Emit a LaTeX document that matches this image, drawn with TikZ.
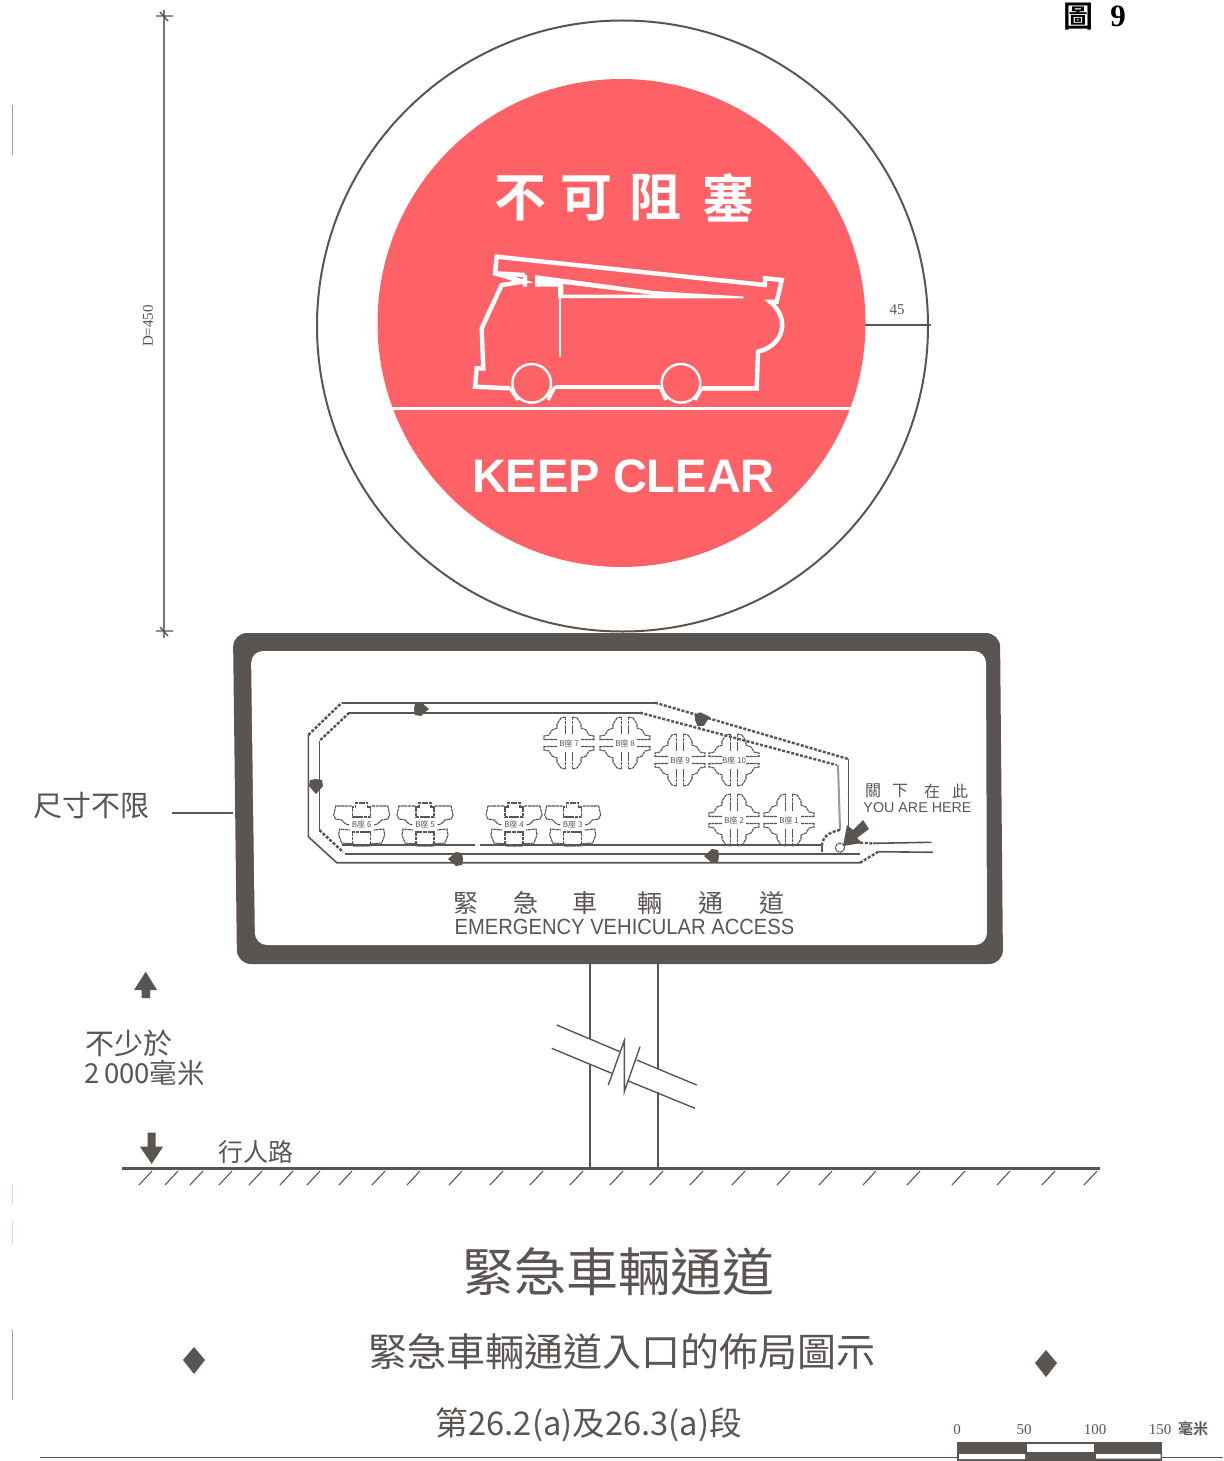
\documentclass[tikz,border=0pt]{standalone}
\usepackage{fontspec}
\setmainfont{Liberation Serif}
\setsansfont{Liberation Sans}
\newfontfamily\cjk{Noto Sans CJK TC}
\newfontfamily\cjkb{Noto Sans CJK TC Bold}
\definecolor{ink}{HTML}{5A5552}
\definecolor{signred}{HTML}{FF6266}
\newcommand{\fs}[1]{\fontsize{#1}{#1}\selectfont}
\tikzset{
  road/.style={draw=ink,line width=1.6pt},
  roadd/.style={draw=ink,line width=2.4pt,dash pattern=on 3pt off 1.6pt},
  truck/.style={draw=white,line width=4.4pt,line join=miter},
  blockln/.style={draw=ink,line width=1.1pt,dash pattern=on 3.2pt off .6pt},
  txt/.style={text=ink,inner sep=0pt,font=\cjk},
  pics/crossb/.style={code={
    \foreach \sx/\sy in {1/1,-1/1,1/-1,-1/-1}{
      \draw[blockln,xscale=\sx,yscale=\sy] (3.5,-26)--(8,-25)--(12,-19)--(12,-15)--(17,-13)--(20,-8)--(25,-7)--(25,-3.5)--(12,-3.5);
      \draw[blockln,xscale=\sx,yscale=\sy] (3.5,-26)--(3.5,-9);
    }
    \node[txt,font=\cjk\fs{8}] at (0,0) {#1};
  }},
  pics/hblock/.style={code={
    \foreach \sx in {1,-1}{
      \draw[blockln,xscale=\sx] (0,-22)--(6,-22)--(6,-18)--(9,-18)--(9,-8)--(0,-8);
      \draw[blockln,xscale=\sx] (10,-19)--(26,-19)--(28,-10)--(26,-6)--(20,-5)--(16,-1)--(12,0);
      \draw[blockln,xscale=\sx] (0,21)--(8,21)--(8,19)--(20,18)--(23,10)--(22,4)--(12,5);
      \draw[blockln,xscale=\sx] (9,19)--(9,7)--(0,7);
    }
    \node[txt,font=\cjk\fs{8},fill=white,inner sep=.5pt] at (0,-.5) {#1};
  }},
  pics/mapmark/.style={code={
    \fill[ink,rotate=#1] (-6,-6)--(0,-7)--(8,0)--(0,7)--(-6,6)--(-7,0)--cycle;
  }}
}
\begin{document}
\begin{tikzpicture}[x=1pt,y=-1pt]
\useasboundingbox (0,0) rectangle (1223,1461);
\fill[white] (0,0) rectangle (1223,1461);

% margin marks
\draw[ink,line width=.6pt,opacity=.6] (12,105)--(12,155) (12,1330)--(12,1400);
\draw[signred,line width=.6pt,opacity=.35] (12,1185)--(12,1205) (12,1220)--(12,1245);

% header
\node[txt,text=black,font=\cjkb\fs{30},anchor=base] (fig) at (1078,28) {圖};
\node[inner sep=0pt,text=black,font=\rmfamily\bfseries\fs{31},anchor=base] (fign) at (1118,27) {9};

% dimension D=450
\coordinate (dt) at (164,10);
\coordinate (db) at (164,638);
\draw[ink!80,line width=1.2pt] (dt)--(db);
\draw[ink,line width=1.4pt] (156,16)--(173,16) (156,631)--(173,631) (160,12)--(168,21) (160,627)--(168,636);
\node[txt,font=\rmfamily\fs{15},rotate=90] (dlab) at (148,326) {D=450};

% circles
\draw[ink,line width=2pt] (622.5,326) circle[radius=305.5];
\fill[signred] (621.5,323) circle[radius=244];
\draw[white,line width=3pt] (392,408)--(851,408);
\draw[ink,line width=1.6pt] (865,325)--(931,325);
\node[txt,font=\rmfamily\fs{15}] (d45) at (897,310) {45};

% sign text
\foreach \x/\c in {520/不,586/可,655/阻,728/塞}{
  \node[inner sep=0pt,text=white,font=\cjkb\fs{52}] at (\x,198) {\c};
}
\node[inner sep=0pt,text=white,font=\sffamily\bfseries\fs{47}] (keep) at (623.5,476) {KEEP CLEAR};

% fire engine
\draw[truck] (660,386.7)--(555,386.7);
\draw[truck] (701.7,388.3)--(756.7,388.3)--(758,351.7)
  .. controls (785,345) and (790,318) .. (770,301.7)--(776.7,301.7)--(781.7,280)--(765,278.3)--(765,285)--(496.7,256.7)--(495,273.3)--(523.3,281.7)--(501.7,285)--(481.7,328.3)--(483.3,368.3)--(476.7,368.3)--(475,386.7)--(510,388.3);
\draw[white,line width=2.4pt] (531.7,383.3) circle[radius=19.3] (681,383.3) circle[radius=19.3];
\draw[white,line width=3.4pt] (510,388)--(518,400) (555,386.7)--(548,400) (660,386.7)--(666,400) (701.7,388.3)--(695,400);
\draw[truck] (525,275)--(525,286.7) (495,273.3)--(525,275);
\fill[white] (535,275)--(653.3,291)--(743.3,296.5)--(743.3,298.5)--(558,298)--(558,286.7)--(535,286.7)--cycle;
\fill[signred] (563.3,284)--(650,294.5)--(563.3,294.5)--cycle;
\draw[white,line width=2.2pt] (560,286.7)--(560,356.7);

% panel
\fill[ink,rounded corners=14pt] (233,633)--(1000,633)--(1003,964)--(237,964)--cycle;
\fill[white,rounded corners=12pt] (251,651)--(986,651)--(987,945)--(255,945)--cycle;

% road map
\draw[road] (933,852.3)--(878.3,851.7);
\draw[roadd] (878.3,851.7)--(860,862.7);
\draw[road] (860,862.7)--(336.7,862.7)--(308.3,836.7)--(308.3,735);
\draw[roadd] (308.3,735)--(341.7,702.7);
\draw[road] (341.7,702.7)--(655,702.7);
\draw[roadd] (655,702.7)--(848.3,759);
\draw[road] (848.3,759)--(848.3,840);
\draw[road] (319.3,741)--(319.3,830);
\draw[roadd] (319.3,830)--(343,852);
\draw[roadd] (349.3,712.7)--(319.3,741);
\draw[road] (349.3,712.7)--(640,712.7);
\draw[roadd] (640,712.7)--(836.7,765);
\draw[road,draw=ink!60,line width=2pt] (838,765)--(840,830);
\draw[roadd] (840,830) .. controls (828,832) and (822,838) .. (822,846);
\draw[road] (822,846)--(822,852);
\draw[road] (342,845)--(475,845) (480,845)--(822,845);
\draw[road] (345,854)--(860,854);
\draw[roadd] (851,842)--(873,843.5);
\draw[road] (873,843.3)--(931.7,842.3);
\draw[blockln] (840,847.7) circle[radius=4.6];

\pic at (421,709) {mapmark=0};
\pic at (702,719) {mapmark=16};
\pic at (316,786) {mapmark=-90};
\pic at (456,859) {mapmark=180};
\pic at (712,856) {mapmark=180};
\fill[ink] (869,829)--(863,820)--(853,830)--(847,825)--(843,846)--(862,843)--(857,838)--cycle;

% blocks
\pic at (569,743) {crossb=B座 7};
\pic at (625,743) {crossb=B座 8};
\pic at (680,760) {crossb=B座 9};
\pic at (734,760) {crossb=B座 10};
\pic at (734,820) {crossb=B座 2};
\pic at (789,820) {crossb=B座 1};
\pic at (361.7,825) {hblock=B座 6};
\pic at (425,825) {hblock=B座 5};
\pic at (514,825) {hblock=B座 4};
\pic at (572.7,825) {hblock=B座 3};

% map texts
\foreach \x/\c in {873/關,900/下,932/在,960/此}{
  \node[txt,font=\cjk\fs{16}] at (\x,791) {\c};
}
\node[txt,font=\sffamily\fs{14.3}] (here) at (917.5,808) {YOU ARE HERE};
\foreach \x/\c in {466/緊,526/急,585/車,650/輛,711/通,772/道}{
  \node[txt,font=\cjk\fs{25}] at (\x,903) {\c};
}
\node[txt,font=\sffamily\fs{22}] (eva) at (624.5,927) {\scalebox{0.917}[1]{EMERGENCY VEHICULAR ACCESS}};

% post
\coordinate (pl) at (590,964);
\coordinate (pr) at (658,964);
\draw[ink,line width=1.8pt] (pl)--(590,1039) (590,1065)--(590,1168);
\draw[ink,line width=2.4pt] (pr)--(658,1069) (658,1092)--(658,1168);
\draw[ink,line width=1.4pt] (556.7,1025)--(620,1051.7) (551.7,1048.3)--(611.7,1073.3)
  (636.7,1060)--(696.7,1085) (628.3,1081)--(695,1108.3);
\draw[ink,line width=1.4pt] (608.3,1085)--(624.3,1040.7)--(624.3,1091.7)--(640,1046.7);

% ground
\draw[ink,line width=3pt] (122,1168)--(1100,1168);
\foreach \x in {152,178,203,232,262,293,320,352,385,420,462,503,543,583,623,663,703,745,790,832,876,920,965,1010,1055,1097}{
  \draw[ink,line width=1.1pt] (\x,1171)--(\x-13,1185);
}

% left labels
\node[txt,font=\cjk\fs{29},anchor=center] (size) at (91.5,806) {尺寸不限};
\draw[ink,line width=1.4pt] (172,813)--(233,813);
\fill[ink] (145.7,971.7)--(157,990)--(150,990)--(150,998)--(141.7,998)--(141.7,990)--(134,990)--cycle;
\fill[ink] (147.7,1132.7)--(155.7,1132.7)--(155.7,1146.7)--(163,1146.7)--(151.7,1164)--(140,1146.7)--(147.7,1146.7)--cycle;
\node[txt,font=\cjk\fs{29}] (min1) at (128.5,1043) {不少於};
\node[txt,font=\cjk\fs{27.5}] (min2) at (144.5,1073) {2\,000毫米};
\node[txt,font=\cjk\fs{25}] (walk) at (255.5,1152) {行人路};

% titles
\node[txt,font=\cjk\fs{52}] (t1) at (618.5,1272) {緊急車輛通道};
\node[txt,font=\cjk\fs{39}] (t2) at (622,1352) {緊急車輛通道入口的佈局圖示};
\node[txt,font=\cjk\fs{32.7}] (t3) at (589,1425) {第26.2(a)及26.3(a)段};
\fill[ink] (194,1347)--(205,1360)--(194,1374)--(183,1360)--cycle;
\fill[ink] (1046,1350)--(1057,1363)--(1046,1377)--(1035,1363)--cycle;

% scale bar
\node[txt,font=\rmfamily\fs{15}] (s0) at (957,1430) {0};
\node[txt,font=\rmfamily\fs{15}] (s50) at (1024,1430) {50};
\node[txt,font=\rmfamily\fs{15}] (s100) at (1095,1430) {100};
\node[txt,font=\rmfamily\fs{15}] (s150) at (1160,1430) {150};
\node[txt,font=\cjkb\fs{15}] (smm) at (1193,1429) {毫米};
\fill[ink] (956.7,1442) rectangle (1162.3,1461);
\fill[white] (1026.7,1444) rectangle (1094,1451.5);
\fill[white] (959,1454) rectangle (1025,1459) (1096,1454) rectangle (1160.5,1458.5);
\draw[ink,line width=1pt] (40,1457)--(956.7,1457) (1162.3,1457)--(1223,1457);
\end{tikzpicture}
\end{document}
